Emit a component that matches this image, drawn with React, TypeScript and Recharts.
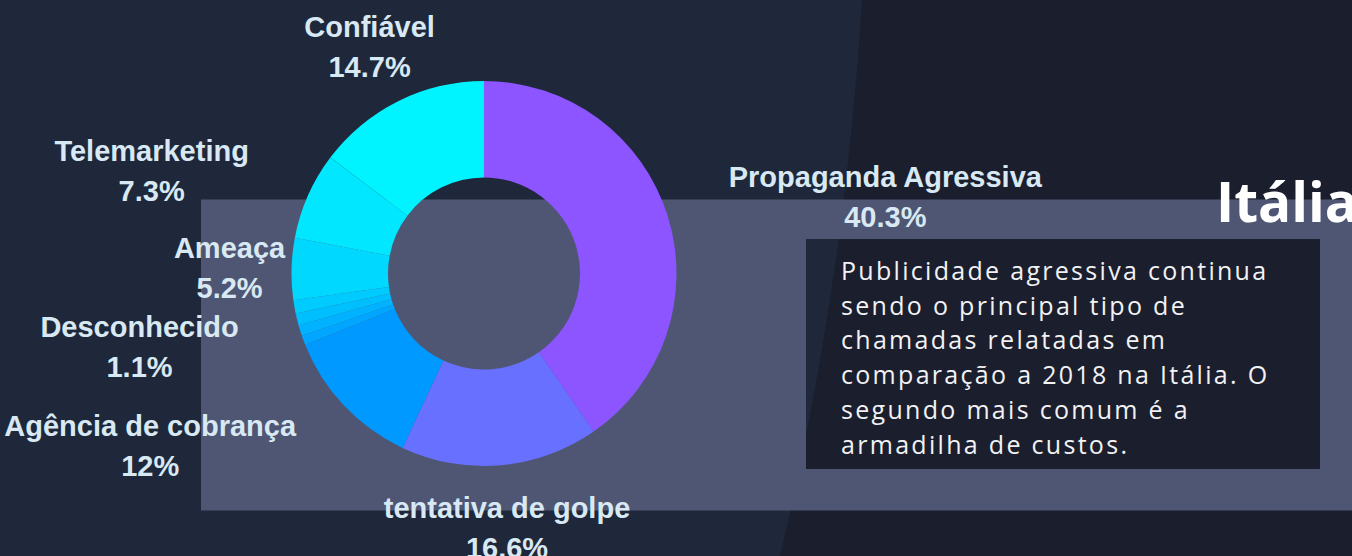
import React from 'react';
import { PieChart, Pie, Cell } from 'recharts';

// slices clockwise from 12 o'clock
const categories = [
  'Propaganda Agressiva',
  'tentativa de golpe',
  'Agência de cobrança',
  'Outros 1',
  'Outros 2',
  'Outros 3',
  'Desconhecido',
  'Ameaça',
  'Telemarketing',
  'Confiável',
];
const shares = [40.3, 16.6, 12, 0.8, 0.9, 1.0, 1.1, 5.2, 7.3, 14.7];
const sliceColors = [
  '#8c55ff', '#6870ff', '#0099ff', '#00a6ff', '#00b2ff',
  '#00bfff', '#00cbff', '#00d8ff', '#00e7ff', '#00f4ff',
];

const noteLines = [
  'Publicidade agressiva continua',
  'sendo o principal tipo de',
  'chamadas relatadas em',
  'comparação a 2018 na Itália. O',
  'segundo mais comum é a',
  'armadilha de custos.',
];

const title = 'Itália';

const W = 1352;
const H = 556;

// where each label sits relative to the point just outside the ring
const labelShift: Record<string, [number, number]> = {
  'Propaganda Agressiva': [210, -27],
  'tentativa de golpe': [6, 45],
  'Agência de cobrança': [-188, 25],
  'Desconhecido': [-147, 29],
  'Ameaça': [-54, -11],
  'Telemarketing': [-149, -31],
  'Confiável': [-25, -57],
};

const pieData = categories.map((name, i) => ({ name, value: shares[i] }));

const RADIAN = Math.PI / 180;

const fmt = (v: number) => (Number.isInteger(v) ? `${v}%` : `${v.toFixed(1)}%`);

function SliceLabel(props: any) {
  const { cx, cy, midAngle, outerRadius, name, value } = props;
  const shift = labelShift[name];
  if (!shift) return null;
  const r = outerRadius + 8;
  const x = cx + r * Math.cos(-midAngle * RADIAN) + shift[0];
  const y = cy + r * Math.sin(-midAngle * RADIAN) + shift[1];
  return (
    <text
      x={x}
      y={y}
      textAnchor="middle"
      fill="#d8e9f4"
      fontFamily="'Liberation Sans', Arial, sans-serif"
      fontWeight={700}
      fontSize={29}
    >
      <tspan x={x} dy={0}>{name}</tspan>
      <tspan x={x} dy={40}>{fmt(value)}</tspan>
    </text>
  );
}

export default function App() {
  return (
    <div style={{ position: 'absolute', left: 0, top: 0, width: W, height: H, overflow: 'hidden' }}>
      <svg width={W} height={H} style={{ position: 'absolute', left: 0, top: 0 }}>
        <defs>
          <clipPath id="boxClip">
            <rect x={806} y={239} width={514} height={230} />
          </clipPath>
        </defs>
        <rect x={0} y={0} width={W} height={H} fill="#1b1e2d" />
        <path d="M0,0 L862,0 Q845,280 780,556 L0,556 Z" fill="#1f283a" />
        <rect x={201} y={199.5} width={W - 201} height={311} fill="#4f5673" />
        <rect x={806} y={239} width={514} height={230} fill="#1b1e2d" />
        <path d="M0,0 L862,0 Q845,280 780,556 L0,556 Z" fill="#1f283a" clipPath="url(#boxClip)" />
        <text
          x={1216}
          y={222}
          fill="#ffffff"
          fontFamily="'Open Sans', sans-serif"
          fontWeight={700}
          fontSize={55}
        >
          {title}
        </text>
      </svg>

      <div
        style={{
          position: 'absolute',
          left: 841,
          top: 253,
          color: '#f2f2f4',
          fontFamily: "'Open Sans', sans-serif",
          fontWeight: 400,
          fontSize: 25,
          lineHeight: '34.7px',
          letterSpacing: 2.3,
          whiteSpace: 'nowrap',
        }}
      >
        {noteLines.map((l) => (
          <div key={l}>{l}</div>
        ))}
      </div>

      <div style={{ position: 'absolute', left: 0, top: 0 }}>
        <PieChart width={W} height={H} margin={{ top: 0, right: 0, bottom: 0, left: 0 }}>
          <Pie
            data={pieData}
            dataKey="value"
            nameKey="name"
            cx={484}
            cy={273.5}
            innerRadius={96}
            outerRadius={192.5}
            startAngle={90}
            endAngle={-270}
            stroke="none"
            label={SliceLabel}
            labelLine={false}
            isAnimationActive={false}
          >
            {pieData.map((d, i) => (
              <Cell key={d.name} fill={sliceColors[i]} />
            ))}
          </Pie>
        </PieChart>
      </div>
    </div>
  );
}
